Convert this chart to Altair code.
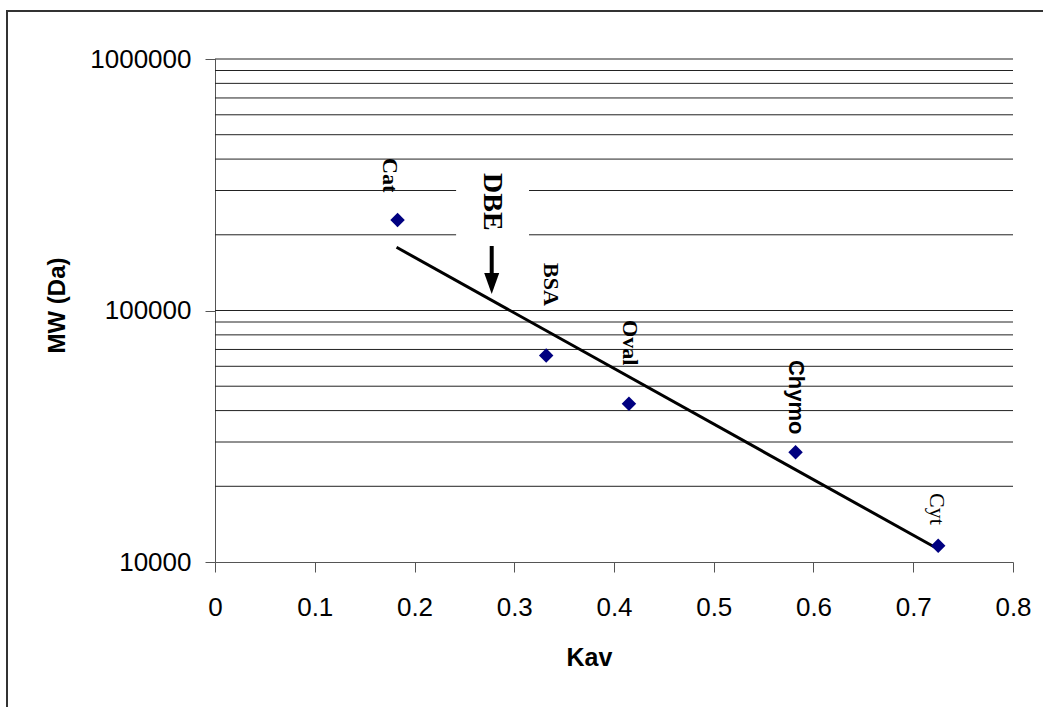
import altair as alt
import pandas as pd

# ---- data ----
proteins = ["Cat", "BSA", "Oval", "Chymo", "Cyt"]
kav = [0.183, 0.332, 0.415, 0.582, 0.725]
mw = [229000, 66300, 42600, 27300, 11600]

trend_kav = [0.182, 0.7235]
trend_mw = [178400, 11340]

label_kav = [0.1757, 0.3368, 0.4160, 0.5825, 0.7238]
label_mw = [404000, 154500, 91650, 63570, 18800]
label_style = ["serif_bold", "serif_bold", "serif_bold", "sans_bold", "serif"]

grid_mw = [20000, 30000, 40000, 50000, 60000, 70000, 80000, 90000, 100000,
           200000, 300000, 400000, 500000, 600000, 700000, 800000, 900000, 1000000]
x_ticks = [0, 0.1, 0.2, 0.3, 0.4, 0.5, 0.6, 0.7, 0.8]
y_ticks = [10000, 100000, 1000000]

dbe_text = ["DBE"]
dbe_kav = [0.2777]
dbe_mw = [352000]
mask_kav = [0.2417, 0.3148]
mask_mw = [379000, 174000]
arrow_kav = [0.2774]
arrow_mw = [180500, 138400]
arrow_head_mw = [128100]

# ---- tables ----
pts = pd.DataFrame({"protein": proteins, "kav": kav, "mw": mw})
trend = pd.DataFrame({"kav": trend_kav, "mw": trend_mw})
labels = pd.DataFrame({"protein": proteins, "kav": label_kav, "mw": label_mw, "style": label_style})
grid = pd.DataFrame({"mw": grid_mw})
dbe = pd.DataFrame({"t": dbe_text, "kav": dbe_kav, "mw": dbe_mw})
mask = pd.DataFrame({"kav": [mask_kav[0]], "kav2": [mask_kav[1]], "mw": [mask_mw[0]], "mw2": [mask_mw[1]]})
arrow = pd.DataFrame({"kav": arrow_kav, "mw": [arrow_mw[0]], "mw2": [arrow_mw[1]]})
head = pd.DataFrame({"kav": arrow_kav, "mw": arrow_head_mw})
one = pd.DataFrame({"a": [0]})

xs = alt.Scale(domain=[0, 0.8], nice=False, zero=False)
ys = alt.Scale(type="log", domain=[10000, 1000000], nice=False)

x_axis = alt.Axis(values=x_ticks, format="~g", grid=False, title="Kav",
                  titleFont="Liberation Sans", titleFontSize=25, titleFontWeight="bold",
                  titleColor="black", titleX=374, titleY=95, titleAlign="center",
                  titleBaseline="middle", labelFont="Liberation Sans", labelFontSize=26,
                  labelColor="black", labelPadding=22, tickSize=10, tickColor="#555",
                  domainColor="#555", labelFlush=False, labelOverlap=False)
y_axis = alt.Axis(values=y_ticks, format="d", grid=False, title="MW (Da)",
                  titleFont="Liberation Sans", titleFontSize=24, titleFontWeight="bold",
                  titleColor="black", titleX=-158, titleY=246, titleAngle=270,
                  titleAlign="center", titleBaseline="middle",
                  labelFont="Liberation Sans", labelFontSize=26, labelColor="black",
                  labelPadding=14, tickSize=10, tickColor="#555", domainColor="#555",
                  labelFlush=False, labelOverlap=False)


def X(field="kav"):
    return alt.X(f"{field}:Q", scale=xs, axis=x_axis, title="Kav")


def Y(field="mw"):
    return alt.Y(f"{field}:Q", scale=ys, axis=y_axis, title="MW (Da)")


gridlayer = alt.Chart(grid).mark_rule(color="#222", strokeWidth=1).encode(y=Y())

masklayer = alt.Chart(mask).mark_rect(color="white", opacity=1).encode(
    x=X(), x2="kav2:Q", y=Y(), y2="mw2:Q")

trendlayer = alt.Chart(trend).mark_line(color="black", strokeWidth=3).encode(x=X(), y=Y())

pointlayer = alt.Chart(pts).mark_point(shape="diamond", filled=True, color="#000080",
                                       size=210, opacity=1).encode(x=X(), y=Y())


def label_layer(style, font, weight):
    return alt.Chart(labels).transform_filter(alt.datum.style == style).mark_text(
        angle=90, align="left", baseline="middle", fontSize=22, font=font,
        fontWeight=weight, color="black").encode(x=X(), y=Y(), text="protein:N")


lab1 = label_layer("serif_bold", "Liberation Serif", "bold")
lab2 = label_layer("sans_bold", "Liberation Sans", "bold")
lab3 = label_layer("serif", "Liberation Serif", "normal")

dbelayer = alt.Chart(dbe).mark_text(angle=90, align="left", baseline="middle",
                                    fontSize=28, font="Liberation Serif",
                                    fontWeight="bold", color="black").encode(
    x=X(), y=Y(), text="t:N")

shaft = alt.Chart(arrow).mark_rule(color="black", strokeWidth=4).encode(
    x=X(), y=Y(), y2="mw2:Q")
headlayer = alt.Chart(head).mark_point(shape="M-1,-1.4L1,-1.4L0,1.4Z", filled=True,
                                       color="black", size=225, opacity=1).encode(
    x=X(), y=Y())

frame_left = alt.Chart(one).mark_rule(color="#333", strokeWidth=2).encode(
    x=alt.value(-208), y=alt.value(-48), y2=alt.value(660))
frame_top = alt.Chart(one).mark_rule(color="#333", strokeWidth=2).encode(
    x=alt.value(-209), x2=alt.value(840), y=alt.value(-48))

chart = alt.layer(
    gridlayer, masklayer, trendlayer, pointlayer, lab1, lab2, lab3,
    dbelayer, shaft, headlayer, frame_left, frame_top
).properties(
    width=798, height=503,
    autosize=alt.AutoSizeParams(type="none"),
    padding={"left": 215, "top": 59, "right": 30, "bottom": 145},
    background="white",
).configure_view(strokeOpacity=0)

chart.save("out.html", embed_options={"renderer": "svg", "actions": False})
